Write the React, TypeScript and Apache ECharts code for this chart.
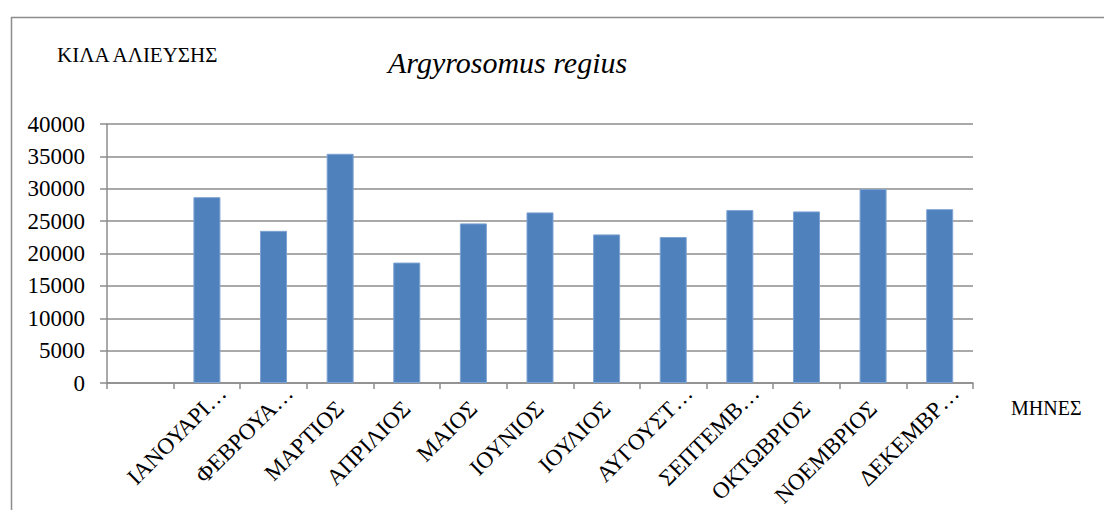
import React, { useEffect, useRef } from "react";
import * as echarts from "echarts";

const categories = [
  "",
  "ΙΑΝΟΥΑΡΙ…",
  "ΦΕΒΡΟΥΑ…",
  "ΜΑΡΤΙΟΣ",
  "ΑΠΡΙΛΙΟΣ",
  "ΜΑΙΟΣ",
  "ΙΟΥΝΙΟΣ",
  "ΙΟΥΛΙΟΣ",
  "ΑΥΓΟΥΣΤ…",
  "ΣΕΠΤΕΜΒ…",
  "ΟΚΤΩΒΡΙΟΣ",
  "ΝΟΕΜΒΡΙΟΣ",
  "ΔΕΚΕΜΒΡ…",
];
const kilos = [null, 28700, 23500, 35400, 18600, 24650, 26350, 22950, 22550, 26700, 26500, 29950, 26850];
const yTicks = { min: 0, max: 40000, interval: 5000 };
const titleText = "Argyrosomus regius";
const yName = "ΚΙΛΑ ΑΛΙΕΥΣΗΣ";
const xName = "ΜΗΝΕΣ";

const FONT = "'Liberation Serif', 'Times New Roman', serif";

export default function App() {
  const ref = useRef<HTMLDivElement>(null);
  useEffect(() => {
    document.body.style.margin = "0";
    const chart = echarts.init(ref.current!, null, { renderer: "svg" });
    const xData = categories.map((c) =>
      c.endsWith("…") ? { value: c, textStyle: { padding: [0, -22, 0, 0] } } : c
    );
    chart.setOption({
      animation: false,
      backgroundColor: "#ffffff",
      graphic: [
        {
          type: "rect",
          left: 9,
          top: 15,
          shape: { width: 1300, height: 700 },
          style: { fill: "none", stroke: "#8c8c8c", lineWidth: 1.5 },
          silent: true,
        },
        {
          type: "text",
          left: 57,
          top: 44,
          style: { text: yName, fontFamily: FONT, fontSize: 21, fill: "#000" },
        },
        {
          type: "text",
          left: 1011,
          top: 398,
          style: { text: xName, fontFamily: FONT, fontSize: 20, fill: "#000" },
        },
      ],
      title: {
        text: titleText,
        left: 383,
        top: 42,
        textStyle: { fontFamily: FONT, fontStyle: "italic", fontWeight: "normal", fontSize: 30, color: "#000" },
      },
      grid: { left: 107, right: 131, top: 124, bottom: 127, containLabel: false },
      xAxis: {
        type: "category",
        data: xData,
        boundaryGap: true,
        axisLine: { lineStyle: { color: "#8c8c8c", width: 1.5 } },
        axisTick: { show: true, length: 6, lineStyle: { color: "#8c8c8c", width: 1.5 } },
        axisLabel: {
          interval: 0,
          rotate: 45,
          margin: 22,
          fontFamily: FONT,
          fontSize: 23,
          color: "#000",
        },
      },
      yAxis: {
        type: "value",
        min: yTicks.min,
        max: yTicks.max,
        interval: yTicks.interval,
        axisLine: { show: true, lineStyle: { color: "#8c8c8c", width: 1.5 } },
        axisTick: { show: true, length: 7, lineStyle: { color: "#8c8c8c", width: 1.5 } },
        splitLine: { show: true, lineStyle: { color: "#8c8c8c", width: 1.5 } },
        axisLabel: {
          fontFamily: FONT,
          fontSize: 23,
          color: "#000",
          margin: 22,
          formatter: (v: number) => String(v),
        },
      },
      series: [
        {
          type: "bar",
          data: kilos,
          barWidth: 27,
          itemStyle: { color: "#4f81bd", borderColor: "#7ea3d3", borderWidth: 1 },
        },
      ],
    });
    return () => chart.dispose();
  }, []);
  return <div ref={ref} style={{ width: 1104, height: 510 }} />;
}
